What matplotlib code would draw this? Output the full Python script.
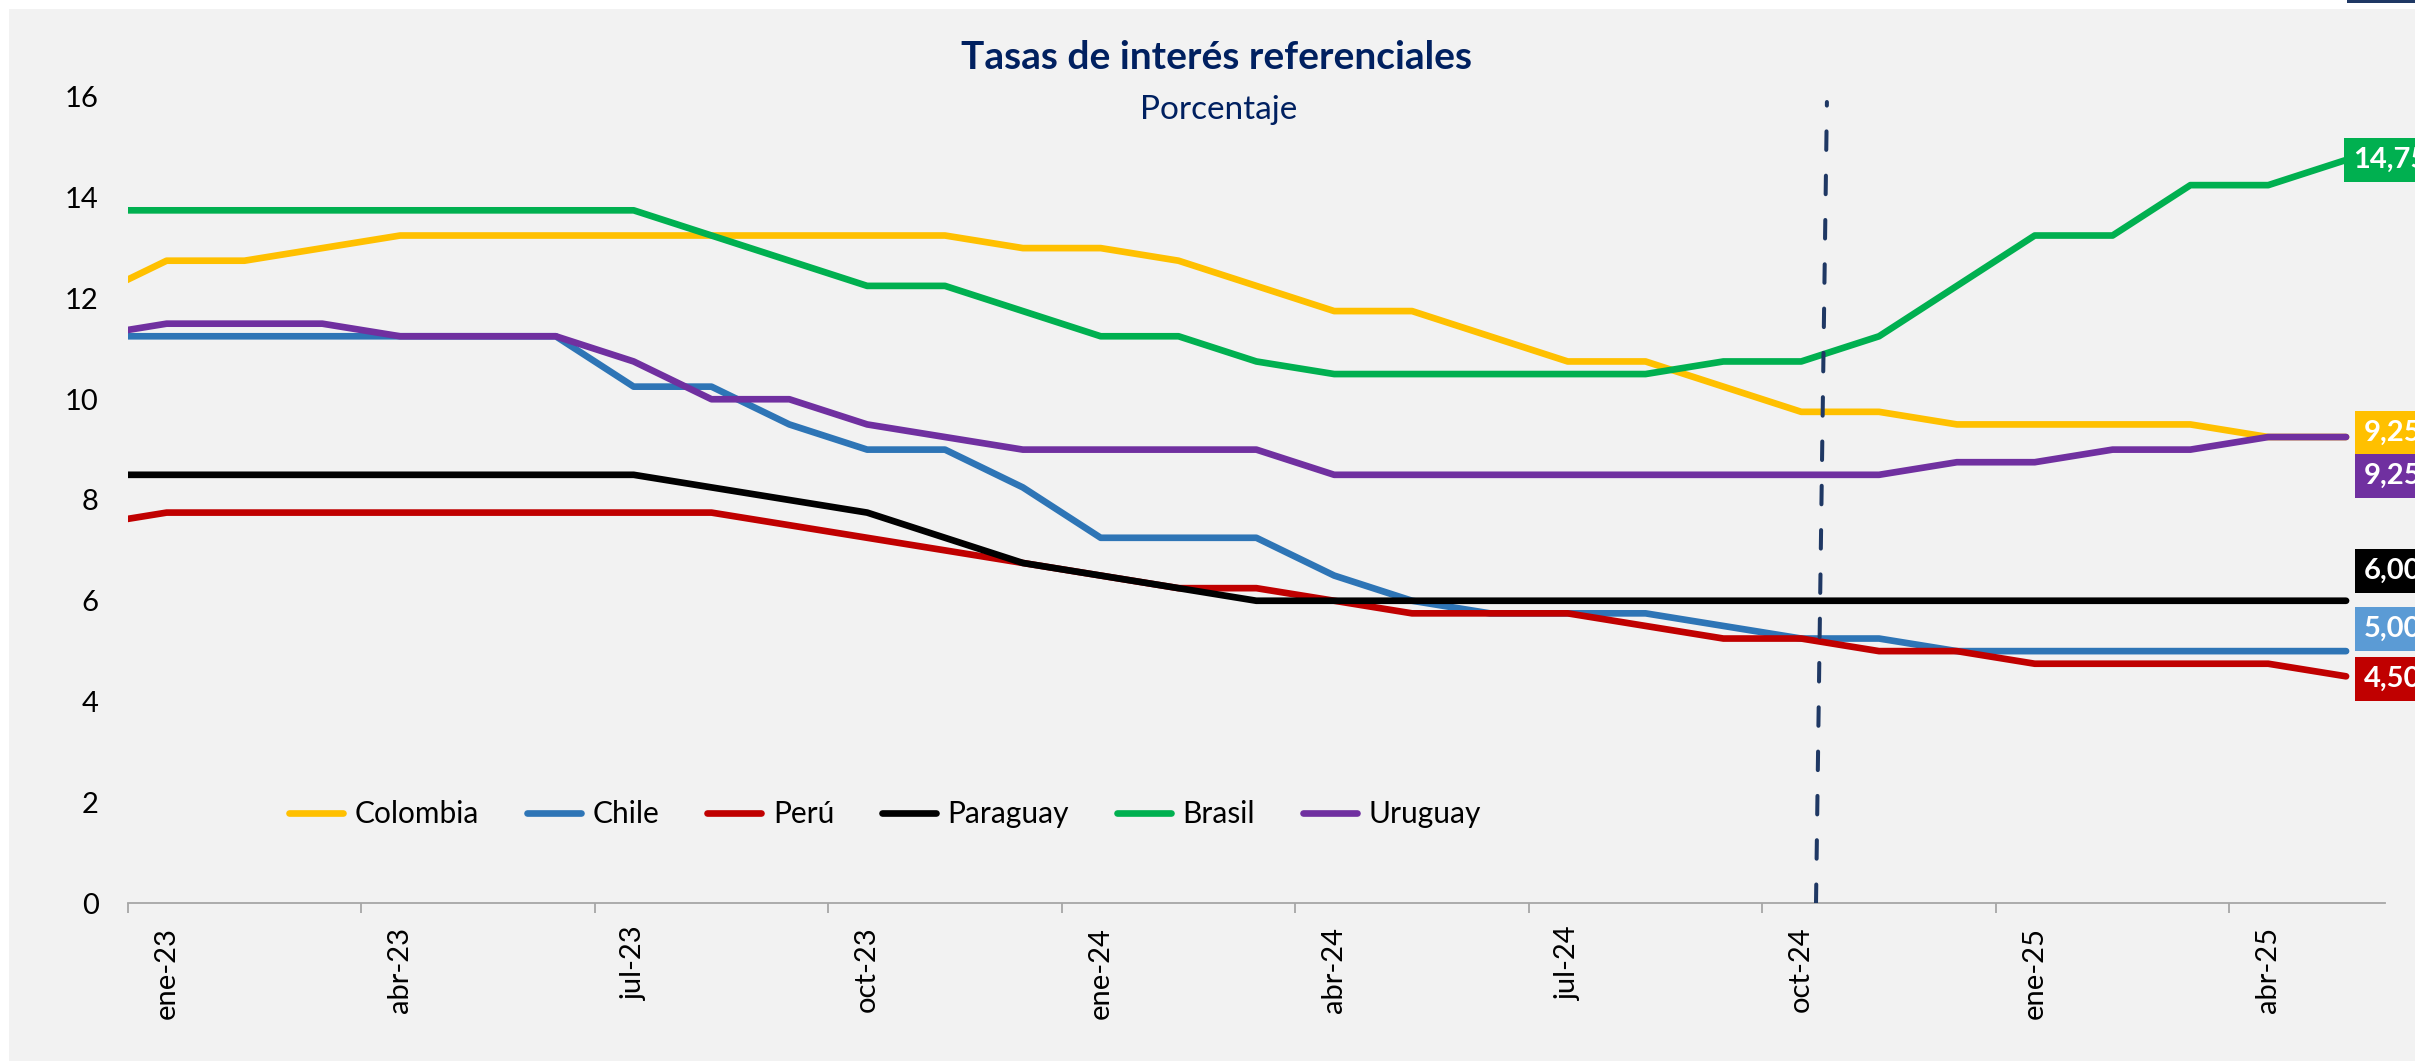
import matplotlib
matplotlib.use("Agg")
import matplotlib.pyplot as plt
from matplotlib.patches import Rectangle
import numpy as np

plt.rcParams['font.family'] = ['Lato', 'DejaVu Sans']

# ---------------- data (monthly, dic-22 .. may-25) ----------------
months = ["dic-22",
          "ene-23", "feb-23", "mar-23", "abr-23", "may-23", "jun-23",
          "jul-23", "ago-23", "sep-23", "oct-23", "nov-23", "dic-23",
          "ene-24", "feb-24", "mar-24", "abr-24", "may-24", "jun-24",
          "jul-24", "ago-24", "sep-24", "oct-24", "nov-24", "dic-24",
          "ene-25", "feb-25", "mar-25", "abr-25", "may-25"]

colombia = [12.00, 12.75, 12.75, 13.00, 13.25, 13.25, 13.25, 13.25, 13.25, 13.25,
            13.25, 13.25, 13.00, 13.00, 12.75, 12.25, 11.75, 11.75, 11.25, 10.75,
            10.75, 10.25, 9.75, 9.75, 9.50, 9.50, 9.50, 9.50, 9.25, 9.25]
chile = [11.25, 11.25, 11.25, 11.25, 11.25, 11.25, 11.25, 10.25, 10.25, 9.50,
         9.00, 9.00, 8.25, 7.25, 7.25, 7.25, 6.50, 6.00, 5.75, 5.75,
         5.75, 5.50, 5.25, 5.25, 5.00, 5.00, 5.00, 5.00, 5.00, 5.00]
peru = [7.50, 7.75, 7.75, 7.75, 7.75, 7.75, 7.75, 7.75, 7.75, 7.50,
        7.25, 7.00, 6.75, 6.50, 6.25, 6.25, 6.00, 5.75, 5.75, 5.75,
        5.50, 5.25, 5.25, 5.00, 5.00, 4.75, 4.75, 4.75, 4.75, 4.50]
paraguay = [8.50, 8.50, 8.50, 8.50, 8.50, 8.50, 8.50, 8.50, 8.25, 8.00,
            7.75, 7.25, 6.75, 6.50, 6.25, 6.00, 6.00, 6.00, 6.00, 6.00,
            6.00, 6.00, 6.00, 6.00, 6.00, 6.00, 6.00, 6.00, 6.00, 6.00]
brasil = [13.75, 13.75, 13.75, 13.75, 13.75, 13.75, 13.75, 13.75, 13.25, 12.75,
          12.25, 12.25, 11.75, 11.25, 11.25, 10.75, 10.50, 10.50, 10.50, 10.50,
          10.50, 10.75, 10.75, 11.25, 12.25, 13.25, 13.25, 14.25, 14.25, 14.75]
uruguay = [11.25, 11.50, 11.50, 11.50, 11.25, 11.25, 11.25, 10.75, 10.00, 10.00,
           9.50, 9.25, 9.00, 9.00, 9.00, 9.00, 8.50, 8.50, 8.50, 8.50,
           8.50, 8.50, 8.50, 8.50, 8.75, 8.75, 9.00, 9.00, 9.25, 9.25]

series_names = ["Colombia", "Chile", "Perú", "Paraguay", "Brasil", "Uruguay"]
series_values = [colombia, chile, peru, paraguay, brasil, uruguay]

tick_labels = ["ene-23", "abr-23", "jul-23", "oct-23", "ene-24",
               "abr-24", "jul-24", "oct-24", "ene-25", "abr-25"]
y_ticks = [0, 2, 4, 6, 8, 10, 12, 14, 16]

# ---------------- styles ----------------
line_colors = ["#FFC000", "#2E75B6", "#C00000", "#000000", "#00B050", "#7030A0"]
box_colors = ["#FFC000", "#5B9BD5", "#C00000", "#000000", "#00B050", "#7030A0"]
# label offsets in points (dx, dy) from the last point
label_offsets = [(12.6, 3.0), (12.6, 16.0), (12.6, -1.8), (12.6, 21.6), (5.0, 0.0), (12.6, -28.0)]
navy = "#002060"

W, H = 2415, 1061
fig = plt.figure(figsize=(W / 100, H / 100), dpi=100)
fig.patch.set_facecolor("white")
fig.patches.append(Rectangle((9 / W, 0), 1 - 9 / W, 1 - 9 / H, transform=fig.transFigure,
                             facecolor="#F2F2F2", edgecolor="none", zorder=-10))
fig.patches.append(Rectangle((2347 / W, 1 - 3 / H), (W - 2347) / W, 3 / H, transform=fig.transFigure,
                             facecolor="#1F3864", edgecolor="none", zorder=-10))

ax = fig.add_axes([0.05288, 0.1489, 0.98758 - 0.05288, 0.9086 - 0.1489])
ax.set_zorder(1)
ax.patch.set_visible(False)

x = np.arange(len(months)) - 1  # ene-23 -> 0

handles = []
for name, vals, col in zip(series_names, series_values, line_colors):
    h, = ax.plot(x, vals, color=col, lw=4.8, solid_capstyle="round",
                 solid_joinstyle="round", label=name, zorder=3)
    handles.append(h)

# vertical dashed marker (hand drawn, slightly slanted)
vline_x = [21.19, 21.33]
vline_y = [0, 15.9]
ax.plot(vline_x, vline_y, color="#1F3864", lw=2.9, dashes=(4.6, 6.4),
        dash_capstyle="round", zorder=4)

ax.set_xlim(-0.5, 28.5)
ax.set_ylim(0, 16)

for s in ["top", "right", "left"]:
    ax.spines[s].set_visible(False)
ax.spines["bottom"].set_color("#A6A6A6")
ax.spines["bottom"].set_linewidth(1.3)

ax.set_yticks(y_ticks)
ax.set_yticklabels([str(v) for v in y_ticks])
ax.tick_params(axis="y", length=0, pad=21, labelsize=21, labelcolor="black")

ax.set_xticks(np.arange(-0.5, 28.5, 3))
ax.set_xticklabels([])
ax.tick_params(axis="x", which="major", length=7, width=1.3, color="#A6A6A6")
ax.set_xticks(np.arange(0, 28, 3), minor=True)
ax.set_xticklabels(tick_labels, minor=True, rotation=90)
ax.tick_params(axis="x", which="minor", length=0, pad=17, labelsize=21, labelcolor="black")

# end-of-series value boxes
for vals, bc, (dx, dy) in zip(series_values, box_colors, label_offsets):
    txt = f"{vals[-1]:.2f}".replace(".", ",")
    ax.annotate(txt, xy=(x[-1], vals[-1]), xytext=(dx, dy), textcoords="offset points",
                ha="left", va="center", color="white", fontsize=21, fontweight="bold",
                bbox=dict(boxstyle="square,pad=0.3", fc=bc, ec="none"),
                annotation_clip=False, zorder=6)

leg = ax.legend(handles=handles, ncol=6, loc="center left", bbox_to_anchor=(0.0715, 0.1104),
                frameon=False, fontsize=21.5, handlelength=1.8, handletextpad=0.4,
                columnspacing=1.6, borderpad=0, borderaxespad=0)

fig.text(0.5037, 0.946, "Tasas de interés referenciales", ha="center", va="center",
         fontsize=28, fontweight="bold", color=navy)
fig.text(0.5048, 0.8963, "Porcentaje", ha="center", va="center",
         fontsize=24, color=navy)

fig.savefig("out.png", dpi=100, facecolor=fig.get_facecolor())
